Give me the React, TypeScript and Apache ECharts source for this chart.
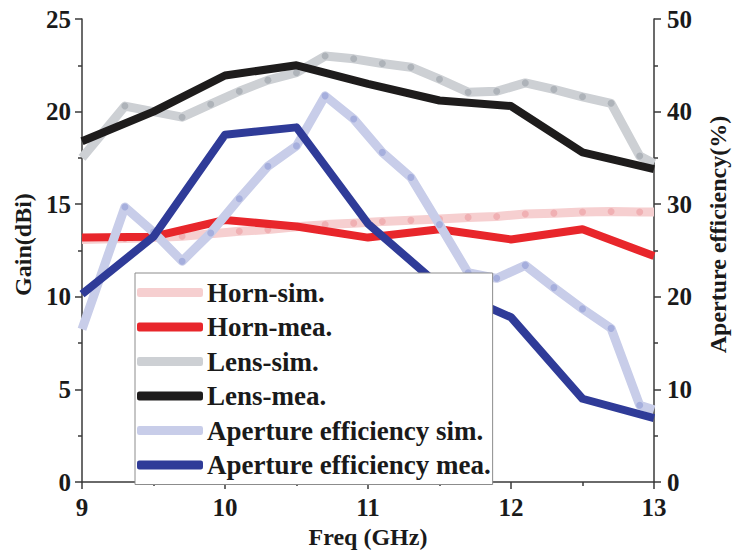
import React, { useEffect, useRef } from "react";
import * as echarts from "echarts";

const simFreq = [9, 9.3, 9.5, 9.7, 9.9, 10.1, 10.3, 10.5, 10.7, 10.9, 11.1, 11.3, 11.5, 11.7, 11.9, 12.1, 12.3, 12.5, 12.7, 12.9, 13];
const meaFreq = [9, 9.5, 10, 10.5, 11, 11.5, 12, 12.5, 13];

const hornSim = [13.1, 13.15, 13.2, 13.27, 13.4, 13.54, 13.63, 13.78, 13.9, 13.98, 14.07, 14.13, 14.2, 14.29, 14.34, 14.47, 14.52, 14.58, 14.61, 14.58, 14.58];
const hornMea = [13.2, 13.25, 14.15, 13.8, 13.2, 13.65, 13.1, 13.65, 12.2];
const lensSim = [17.5, 20.3, 20.0, 19.7, 20.4, 21.1, 21.7, 22.1, 23.0, 22.85, 22.6, 22.4, 21.75, 21.05, 21.1, 21.55, 21.2, 20.8, 20.45, 17.6, 17.2];
const lensMea = [18.4, 20.0, 21.95, 22.5, 21.5, 20.6, 20.3, 17.8, 16.9];
const apSim = [16.5, 29.7, 27.0, 23.85, 26.9, 30.6, 34.1, 36.3, 41.7, 39.2, 35.6, 32.9, 27.8, 22.6, 22.0, 23.4, 21.0, 18.7, 16.6, 8.3, 7.8];
const apMea = [20.3, 26.5, 37.5, 38.3, 27.9, 21.2, 17.8, 9.0, 6.9];

const seriesNames = [
  "Horn-sim.",
  "Horn-mea.",
  "Lens-sim.",
  "Lens-mea.",
  "Aperture efficiency sim.",
  "Aperture efficiency mea.",
];

const FONT = "'Times New Roman', 'Liberation Serif', serif";
const AX = "#3a3a3a";

function simData(xs: number[], ys: number[]) {
  return xs.map((x, i) => {
    const edge = i === 0 || i === xs.length - 1;
    return edge ? { value: [x, ys[i]], symbol: "none" } : { value: [x, ys[i]] };
  });
}
function meaData(xs: number[], ys: number[]) {
  return xs.map((x, i) => [x, ys[i]]);
}

export default function App() {
  const ref = useRef<HTMLDivElement>(null);
  useEffect(() => {
    if (!ref.current) return;
    const chart = echarts.init(ref.current, null, { renderer: "svg" });
    const lineColors = ["#F6CFD0", "#E8262B", "#CDD0D4", "#1E1C1C", "#C8CDE9", "#2F3B98"];
    const dotColors = ["#F0B0B3", null, "#AEB3B9", null, "#A6AFDD", null];

    const simSeries = (idx: number, data: any[], yAxisIndex: number) => ({
      name: seriesNames[idx],
      type: "line",
      yAxisIndex,
      data,
      symbol: "circle",
      symbolSize: 7,
      showSymbol: true,
      itemStyle: { color: dotColors[idx] },
      lineStyle: { color: lineColors[idx], width: 9, join: "round" },
      z: 2 + idx,
    });
    const meaSeries = (idx: number, data: any[], yAxisIndex: number) => ({
      name: seriesNames[idx],
      type: "line",
      yAxisIndex,
      data,
      symbol: "none",
      itemStyle: { color: lineColors[idx] },
      lineStyle: { color: lineColors[idx], width: 8, join: "round" },
      z: 2 + idx,
    });

    const labelStyle = { fontFamily: FONT, fontWeight: "bold", fontSize: 25, color: "#1a1a1a" };
    const nameStyle = { fontFamily: FONT, fontWeight: "bold", fontSize: 24, color: "#1a1a1a" };
    const axisCommon = {
      axisLine: { show: true, lineStyle: { color: AX, width: 1.5 } },
      axisTick: { show: true, length: 7, lineStyle: { color: AX, width: 1.5 } },
      minorTick: { show: true, splitNumber: 2, length: 4, lineStyle: { color: AX, width: 1.5 } },
      splitLine: { show: false },
      minorSplitLine: { show: false },
    };

    chart.setOption({
      animation: false,
      backgroundColor: "#ffffff",
      grid: { left: 82, right: 76, top: 19, bottom: 69, containLabel: false },
      xAxis: {
        type: "value",
        min: 9,
        max: 13,
        interval: 1,
        name: "Freq (GHz)",
        nameLocation: "middle",
        nameGap: 40,
        nameTextStyle: nameStyle,
        ...axisCommon,
        axisLabel: { ...labelStyle, margin: 13 },
      },
      yAxis: [
        {
          type: "value",
          min: 0,
          max: 25,
          interval: 5,
          name: "Gain(dBi)",
          nameLocation: "middle",
          nameGap: 46,
          nameTextStyle: { ...nameStyle, padding: [0, 0, 0, 12] },
          ...axisCommon,
          axisLabel: { ...labelStyle, margin: 11 },
        },
        {
          type: "value",
          min: 0,
          max: 50,
          interval: 10,
          position: "right",
          name: "Aperture efficiency(%)",
          nameLocation: "middle",
          nameGap: 52,
          nameTextStyle: { ...nameStyle, padding: [0, 0, 0, 32] },
          ...axisCommon,
          axisLabel: { ...labelStyle, margin: 13 },
        },
      ],
      legend: {
        orient: "vertical",
        left: 135,
        top: 273,
        z: 20,
        padding: [6, 2, 6, 2],
        itemGap: 7.5,
        itemWidth: 66,
        itemHeight: 9,
        backgroundColor: "#ffffff",
        borderColor: "#8c8c8c",
        borderWidth: 1,
        borderRadius: 0,
        textStyle: { fontFamily: FONT, fontWeight: "bold", fontSize: 27, lineHeight: 27, color: "#1a1a1a", padding: [0, 0, 0, -1] },
        data: seriesNames.map((n, i) => ({
          name: n,
          icon: "roundRect",
          itemStyle: { color: lineColors[i], borderWidth: 0 },
        })),
      },
      series: [
        simSeries(0, simData(simFreq, hornSim), 0),
        meaSeries(1, meaData(meaFreq, hornMea), 0),
        simSeries(2, simData(simFreq, lensSim), 0),
        meaSeries(3, meaData(meaFreq, lensMea), 0),
        simSeries(4, simData(simFreq, apSim), 1),
        meaSeries(5, meaData(meaFreq, apMea), 1),
      ],
    });
    return () => chart.dispose();
  }, []);
  return (
    <div
      ref={ref}
      style={{ position: "fixed", left: 0, top: 0, width: 738, height: 554 }}
    />
  );
}
